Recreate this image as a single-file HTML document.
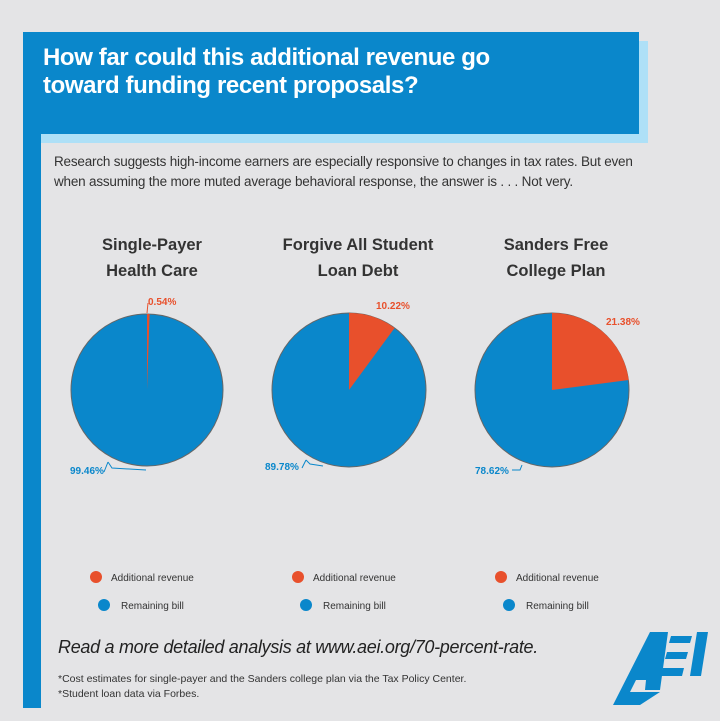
<!DOCTYPE html>
<html><head><meta charset="utf-8"><style>
body{margin:0;width:720px;height:721px;background:#e4e4e6;position:relative;overflow:hidden;font-family:"Liberation Sans",sans-serif}
.a{position:absolute}
</style></head><body>
<div class="a" style="left:41px;top:41px;width:607px;height:102px;background:#aee0f7"></div>
<div class="a" style="left:23px;top:32px;width:616px;height:102px;background:#0a87cb"></div>
<div class="a" style="left:23px;top:32px;width:18px;height:676px;background:#0a87cb"></div>
<div class="a" style="left:43px;top:44px;color:#fff;font-weight:bold;font-size:24px;line-height:28px;letter-spacing:-0.4px">How far could this additional revenue go<br>toward funding recent proposals?</div>
<div class="a" style="left:54px;top:152px;color:#333;font-size:13.5px;line-height:20px;letter-spacing:-0.2px">Research suggests high-income earners are especially responsive to changes in tax rates. But even<br>when assuming the more muted average behavioral response, the answer is . . . Not very.</div>
<div class="a" style="left:72px;top:232px;width:160px;text-align:center;color:#333;font-weight:bold;font-size:16.5px;line-height:26px">Single-Payer<br>Health Care</div>
<div class="a" style="left:263px;top:232px;width:190px;text-align:center;color:#333;font-weight:bold;font-size:16.5px;line-height:26px">Forgive All Student<br>Loan Debt</div>
<div class="a" style="left:476px;top:232px;width:160px;text-align:center;color:#333;font-weight:bold;font-size:16.5px;line-height:26px">Sanders Free<br>College Plan</div>
<svg class="a" style="left:0;top:0" width="720" height="721">
<g stroke="#666" stroke-width="1">
<circle cx="147" cy="390" r="76" fill="#0a87cb"/>
<path d="M147 390 L147 314 A76 76 0 0 1 149.6 314 Z" fill="#e8502c" stroke="none"/>
<circle cx="349" cy="390" r="77" fill="#0a87cb"/>
<path d="M349 390 L349 313 A77 77 0 0 1 394.6 328 Z" fill="#e8502c" stroke="none"/>
<circle cx="552" cy="390" r="77" fill="#0a87cb"/>
<path d="M552 390 L552 313 A77 77 0 0 1 628.7 380 Z" fill="#e8502c" stroke="none"/>
</g>
<g fill="none" stroke-width="1">
<path d="M147 313 L148 303" stroke="#e8502c"/>
<path d="M108 462 L112 468 L146 470 M108 462 L104 472" stroke="#0a87cb"/>
<path d="M306 460 L310 464 L323 466 M306 460 L302 468" stroke="#0a87cb"/>
<path d="M522 465 L520 470 L512 470" stroke="#0a87cb"/>
</g>
<g font-weight="bold" font-size="10">
<text x="148" y="305" fill="#e8502c">0.54%</text>
<text x="70" y="474" fill="#0a87cb">99.46%</text>
<text x="376" y="309" fill="#e8502c">10.22%</text>
<text x="265" y="470" fill="#0a87cb">89.78%</text>
<text x="606" y="325" fill="#e8502c">21.38%</text>
<text x="475" y="474" fill="#0a87cb">78.62%</text>
</g>
<g font-size="10" fill="#333">
<circle cx="96" cy="577" r="6" fill="#e8502c"/><text x="111" y="581">Additional revenue</text>
<circle cx="104" cy="605" r="6" fill="#0a87cb"/><text x="121" y="609">Remaining bill</text>
<circle cx="298" cy="577" r="6" fill="#e8502c"/><text x="313" y="581">Additional revenue</text>
<circle cx="306" cy="605" r="6" fill="#0a87cb"/><text x="323" y="609">Remaining bill</text>
<circle cx="501" cy="577" r="6" fill="#e8502c"/><text x="516" y="581">Additional revenue</text>
<circle cx="509" cy="605" r="6" fill="#0a87cb"/><text x="526" y="609">Remaining bill</text>
</g>
<text x="58" y="653" font-size="18" font-style="italic" fill="#222" letter-spacing="-0.3">Read a more detailed analysis at www.aei.org/70-percent-rate.</text>
<text x="58" y="682" font-size="10.5" fill="#333">*Cost estimates for single-payer and the Sanders college plan via the Tax Policy Center.</text>
<text x="58" y="697" font-size="10.5" fill="#333">*Student loan data via Forbes.</text>
<g fill="#0a87cb">
<path d="M613 705 L650 632 L668 632 L660 690 L645 690 L646 680 L636 680 L630 692 L660 692 L640 705 Z"/>
<path d="M671 636 L692 636 L690 643 L669 643 Z M667 652 L688 652 L686 659 L665 659 Z M663 668 L684 668 L682 676 L661 676 Z"/>
<path d="M697 632 L708 632 L701 676 L690 676 Z"/>
</g>
</svg>
</body></html>
